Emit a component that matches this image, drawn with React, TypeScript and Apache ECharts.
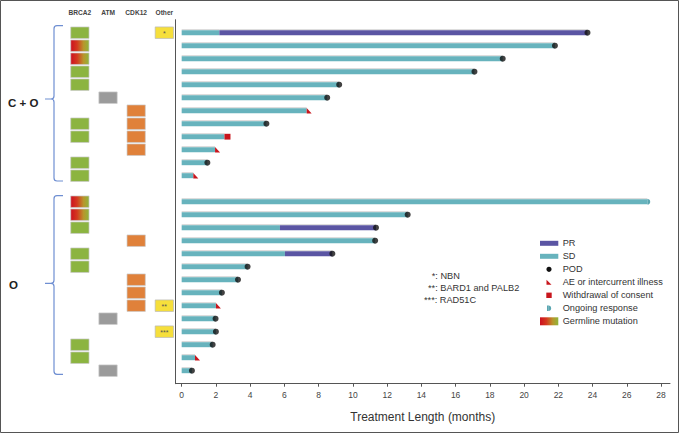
import React, { useEffect, useRef } from 'react';
import * as echarts from 'echarts';

// ---------- data ----------
const geneColumns = ['BRCA2', 'ATM', 'CDK12', 'Other'];
const xTicks = [0, 2, 4, 6, 8, 10, 12, 14, 16, 18, 20, 22, 24, 26, 28];

// patient rows (row 12 is the gap between the C + O and O groups)
const rowIndex = [0, 1, 2, 3, 4, 5, 6, 7, 8, 9, 10, 11, 13, 14, 15, 16, 17, 18, 19, 20, 21, 22, 23, 24, 25, 26];
const sdEnd = [2.2, 21.8, 18.75, 17.1, 9.2, 8.5, 7.3, 4.95, 2.5, 1.95, 1.5, 0.68, 27.2, 13.2, 5.74, 11.3, 6.03, 3.85, 3.29, 2.35, 2.0, 1.98, 2.0, 1.81, 0.78, 0.6];
const prEnd = [23.7, null, null, null, null, null, null, null, null, null, null, null, null, null, 11.35, null, 8.8, null, null, null, null, null, null, null, null, null];
const outcome = ['POD', 'POD', 'POD', 'POD', 'POD', 'POD', 'AE', 'POD', 'WD', 'AE', 'POD', 'AE', 'ONG', 'POD', 'POD', 'POD', 'POD', 'POD', 'POD', 'POD', 'AE', 'POD', 'POD', 'POD', 'AE', 'POD'];

// gene alteration rows
const brca2Somatic = [0, 3, 4, 7, 8, 10, 11, 15, 17, 18, 24, 25];
const brca2Germline = [1, 2, 13, 14];
const atmRows = [5, 22, 26];
const cdk12Rows = [6, 7, 8, 9, 16, 19, 20, 21];
const otherRows = [0, 21, 23];
const otherLabels = ['*', '**', '***'];

const annotations = ['*: NBN', '**: BARD1 and PALB2', '***: RAD51C'];
const legendLabels = ['PR', 'SD', 'POD', 'AE or intercurrent illness', 'Withdrawal of consent', 'Ongoing response', 'Germline mutation'];

// ---------- styles ----------
const SD_COLOR = '#67b3bd';
const PR_COLOR = '#5a55a3';
const RED = '#c8161d';
const GREEN = '#8cb440';
const ORANGE = '#e0813a';
const GRAY = '#9b9b9b';
const YELLOW = '#f6df3b';
const BRACE = '#6f8fd2';
const FONT = '"Liberation Sans", Arial, sans-serif';

const germGrad = () =>
  new echarts.graphic.LinearGradient(0, 0, 1, 0, [
    { offset: 0, color: '#cc1020' },
    { offset: 0.35, color: '#d4391f' },
    { offset: 0.7, color: '#b8962c' },
    { offset: 1, color: '#8fb53b' },
  ]);

echarts.graphic.registerShape(
  'braceCO',
  echarts.graphic.extendPath(
    'M63,25.7 L57,25.7 Q54,25.7 54,28.7 L54,96 Q54,99 51,99 L45,99 M45,99 L51,99 Q54,99 54,102 L54,178 Q54,181 57,181 L63,181',
    {}
  )
);
echarts.graphic.registerShape(
  'braceO',
  echarts.graphic.extendPath(
    'M63,195.7 L57,195.7 Q54,195.7 54,198.7 L54,280.3 Q54,283.3 51,283.3 L45,283.3 M45,283.3 L51,283.3 Q54,283.3 54,286.3 L54,371.3 Q54,374.3 57,374.3 L63,374.3',
    {}
  )
);

export default function App() {
  const ref = useRef<HTMLDivElement>(null);

  useEffect(() => {
    if (!ref.current) return;
    const chart = echarts.init(ref.current, undefined, { renderer: 'svg' });

    // bar segments: [start, end, row, kind] kind 0 = SD, 1 = PR
    const segments: number[][] = [];
    const podPoints: number[][] = [];
    const events: number[][] = []; // [x, row, kind] 0 AE, 1 WD, 2 ONG
    rowIndex.forEach((r, i) => {
      segments.push([0, sdEnd[i], r, 0]);
      const pe = prEnd[i];
      if (pe != null) segments.push([sdEnd[i], pe, r, 1]);
      const end = pe != null ? pe : sdEnd[i];
      const o = outcome[i];
      if (o === 'POD') podPoints.push([end, r]);
      else if (o === 'AE') events.push([end, r, 0]);
      else if (o === 'WD') events.push([end, r, 1]);
      else if (o === 'ONG') events.push([end, r, 2]);
    });

    // gene cells: [col, row, kind] 0 green, 1 germline, 2 gray, 3 orange, 4 yellow
    const cells: number[][] = [];
    const cellText: string[] = [];
    brca2Somatic.forEach((r) => { cells.push([0, r, 0]); cellText.push(''); });
    brca2Germline.forEach((r) => { cells.push([0, r, 1]); cellText.push(''); });
    atmRows.forEach((r) => { cells.push([1, r, 2]); cellText.push(''); });
    cdk12Rows.forEach((r) => { cells.push([2, r, 3]); cellText.push(''); });
    otherRows.forEach((r, i) => { cells.push([3, r, 4]); cellText.push(otherLabels[i]); });

    const legendX = 549;
    const legendTextX = 562.7;
    const legendY0 = 243.3;
    const step = 13;
    const ly = (i: number) => legendY0 + i * step;
    const legendGraphics: any[] = [];
    legendLabels.forEach((t, i) => {
      legendGraphics.push({
        type: 'text',
        x: legendTextX,
        y: ly(i),
        style: { text: t, fontSize: 9.2, fill: '#333', fontFamily: FONT, verticalAlign: 'middle', align: 'left' },
      });
    });
    legendGraphics.push(
      { type: 'rect', shape: { x: 540, y: ly(0) - 2.5, width: 18.3, height: 5 }, style: { fill: PR_COLOR } },
      { type: 'rect', shape: { x: 540, y: ly(1) - 2.5, width: 18.3, height: 5 }, style: { fill: SD_COLOR } },
      { type: 'circle', shape: { cx: legendX, cy: ly(2), r: 2.6 }, style: { fill: '#111' } },
      { type: 'polygon', shape: { points: [[legendX - 2.5, ly(3) - 2.5], [legendX - 2.5, ly(3) + 2.5], [legendX + 2.5, ly(3) + 2.5]] }, style: { fill: RED } },
      { type: 'rect', shape: { x: legendX - 2.7, y: ly(4) - 2.7, width: 5.4, height: 5.4 }, style: { fill: RED } },
      { type: 'rect', shape: { x: legendX - 2, y: ly(5) - 2.7, width: 1.5, height: 5.4 }, style: { fill: '#5aa6b1' } },
      { type: 'sector', shape: { cx: legendX - 0.6, cy: ly(5), r0: 0, r: 2.7, startAngle: -Math.PI / 2, endAngle: Math.PI / 2, clockwise: true }, style: { fill: '#5aa6b1' } },
      { type: 'rect', shape: { x: 540, y: ly(6) - 4, width: 18.3, height: 8 }, style: { fill: germGrad() } }
    );

    const annX = [431.7, 428, 424];
    const annY = [275.7, 287.7, 300];
    const annGraphics = annotations.map((t, i) => ({
      type: 'text',
      x: annX[i],
      y: annY[i],
      style: { text: t, fontSize: 9.2, fill: '#333', fontFamily: FONT, verticalAlign: 'middle', align: 'left' },
    }));

    const option: any = {
      animation: false,
      grid: [
        { left: 175.5, top: 19.7, width: 494.5, height: 364 },
        { left: 65.8, top: 19.7, width: 112.6, height: 364 },
      ],
      xAxis: [
        {
          type: 'value',
          gridIndex: 0,
          min: -0.36,
          max: 28.52,
          position: 'bottom',
          splitLine: { show: false },
          axisLine: { show: true, onZero: false, lineStyle: { color: '#555', width: 1 } },
          axisTick: { show: true, customValues: xTicks, length: 3, lineStyle: { color: '#555' } },
          axisLabel: { customValues: xTicks, fontSize: 8.5, color: '#444', margin: 7, fontFamily: FONT },
          name: 'Treatment Length (months)',
          nameLocation: 'middle',
          nameGap: 27,
          nameTextStyle: { fontSize: 12, color: '#333', fontFamily: FONT },
        },
        {
          type: 'category',
          gridIndex: 1,
          position: 'top',
          data: geneColumns,
          axisLine: { show: false, onZero: false },
          axisTick: { show: false },
          axisLabel: { interval: 0, fontSize: 6.6, fontWeight: 'bold', color: '#444', margin: 4, fontFamily: FONT },
          splitLine: { show: false },
        },
      ],
      yAxis: [
        {
          type: 'value',
          gridIndex: 0,
          min: -1,
          max: 27,
          inverse: true,
          position: 'left',
          axisLine: { show: true, onZero: false, lineStyle: { color: '#555', width: 1 } },
          axisTick: { show: false },
          axisLabel: { show: false },
          splitLine: { show: false },
        },
        {
          type: 'value',
          gridIndex: 1,
          min: -1,
          max: 27,
          inverse: true,
          show: false,
        },
      ],
      series: [
        {
          type: 'custom',
          xAxisIndex: 0,
          yAxisIndex: 0,
          data: segments,
          encode: { x: [0, 1], y: 2 },
          renderItem: (params: any, api: any) => {
            const s = api.coord([api.value(0), api.value(2)]);
            const e = api.coord([api.value(1), api.value(2)]);
            const h = 5;
            const kind = api.value(3);
            return {
              type: 'group',
              children: [
                { type: 'rect', shape: { x: s[0], y: s[1] - h / 2 - 1, width: e[0] - s[0], height: 1 }, style: { fill: '#d2d2d2' } },
                { type: 'rect', shape: { x: s[0], y: s[1] - h / 2, width: e[0] - s[0], height: h }, style: { fill: kind === 1 ? PR_COLOR : SD_COLOR } },
              ],
            };
          },
          z: 2,
        },
        {
          type: 'custom',
          xAxisIndex: 0,
          yAxisIndex: 0,
          data: events,
          encode: { x: 0, y: 1 },
          renderItem: (params: any, api: any) => {
            const p = api.coord([api.value(0), api.value(1)]);
            const k = api.value(2);
            if (k === 0) {
              return { type: 'polygon', shape: { points: [[p[0], p[1] - 2.7], [p[0], p[1] + 2.7], [p[0] + 5, p[1] + 2.7]] }, style: { fill: RED } };
            }
            if (k === 1) {
              return { type: 'rect', shape: { x: p[0], y: p[1] - 2.9, width: 6, height: 5.8 }, style: { fill: RED } };
            }
            return {
              type: 'sector',
              shape: { cx: p[0], cy: p[1], r0: 0, r: 2.8, startAngle: -Math.PI / 2, endAngle: Math.PI / 2, clockwise: true },
              style: { fill: '#5aa6b1' },
            };
          },
          z: 3,
        },
        {
          type: 'scatter',
          xAxisIndex: 0,
          yAxisIndex: 0,
          data: podPoints,
          symbol: 'circle',
          symbolSize: 6,
          itemStyle: { color: '#111' },
          z: 4,
        },
        {
          type: 'custom',
          xAxisIndex: 1,
          yAxisIndex: 1,
          data: cells,
          encode: { x: 0, y: 1 },
          renderItem: (params: any, api: any) => {
            const p = api.coord([api.value(0), api.value(1)]);
            const k = api.value(2);
            const w = 18.3;
            const h = 11.5;
            const fill = k === 0 ? GREEN : k === 1 ? germGrad() : k === 2 ? GRAY : k === 3 ? ORANGE : YELLOW;
            const children: any[] = [
              {
                type: 'rect',
                shape: { x: p[0] - w / 2, y: p[1] - h / 2, width: w, height: h },
                style: { fill, stroke: k === 4 ? '#b8b8b8' : '#cccccc', lineWidth: 0.7 },
              },
            ];
            const txt = cellText[params.dataIndex];
            if (txt) {
              children.push({
                type: 'text',
                style: { text: txt, x: p[0], y: p[1] + 0.5, align: 'center', verticalAlign: 'middle', fontSize: 7, fill: '#555', fontFamily: FONT },
              });
            }
            return { type: 'group', children };
          },
        },
      ],
      graphic: [
        { type: 'rect', shape: { x: 0.5, y: 0.5, width: 678, height: 432 }, style: { fill: 'none', stroke: '#555', lineWidth: 1 }, silent: true },
        { type: 'braceCO', x: 0, y: 0, shape: {}, style: { fill: 'none', stroke: BRACE, lineWidth: 1.2 } },
        { type: 'braceO', x: 0, y: 0, shape: {}, style: { fill: 'none', stroke: BRACE, lineWidth: 1.2 } },
        { type: 'text', x: 8, y: 102.5, style: { text: 'C + O', fontSize: 11.5, fontWeight: 'bold', fill: '#222', fontFamily: FONT, verticalAlign: 'middle' } },
        { type: 'text', x: 9, y: 285, style: { text: 'O', fontSize: 11.5, fontWeight: 'bold', fill: '#222', fontFamily: FONT, verticalAlign: 'middle' } },
        ...legendGraphics,
        ...annGraphics,
      ],
    };

    chart.setOption(option);
    return () => chart.dispose();
  }, []);

  return (
    <div
      ref={ref}
      style={{ position: 'fixed', left: 0, top: 0, width: 679, height: 433, background: '#fff' }}
    />
  );
}
